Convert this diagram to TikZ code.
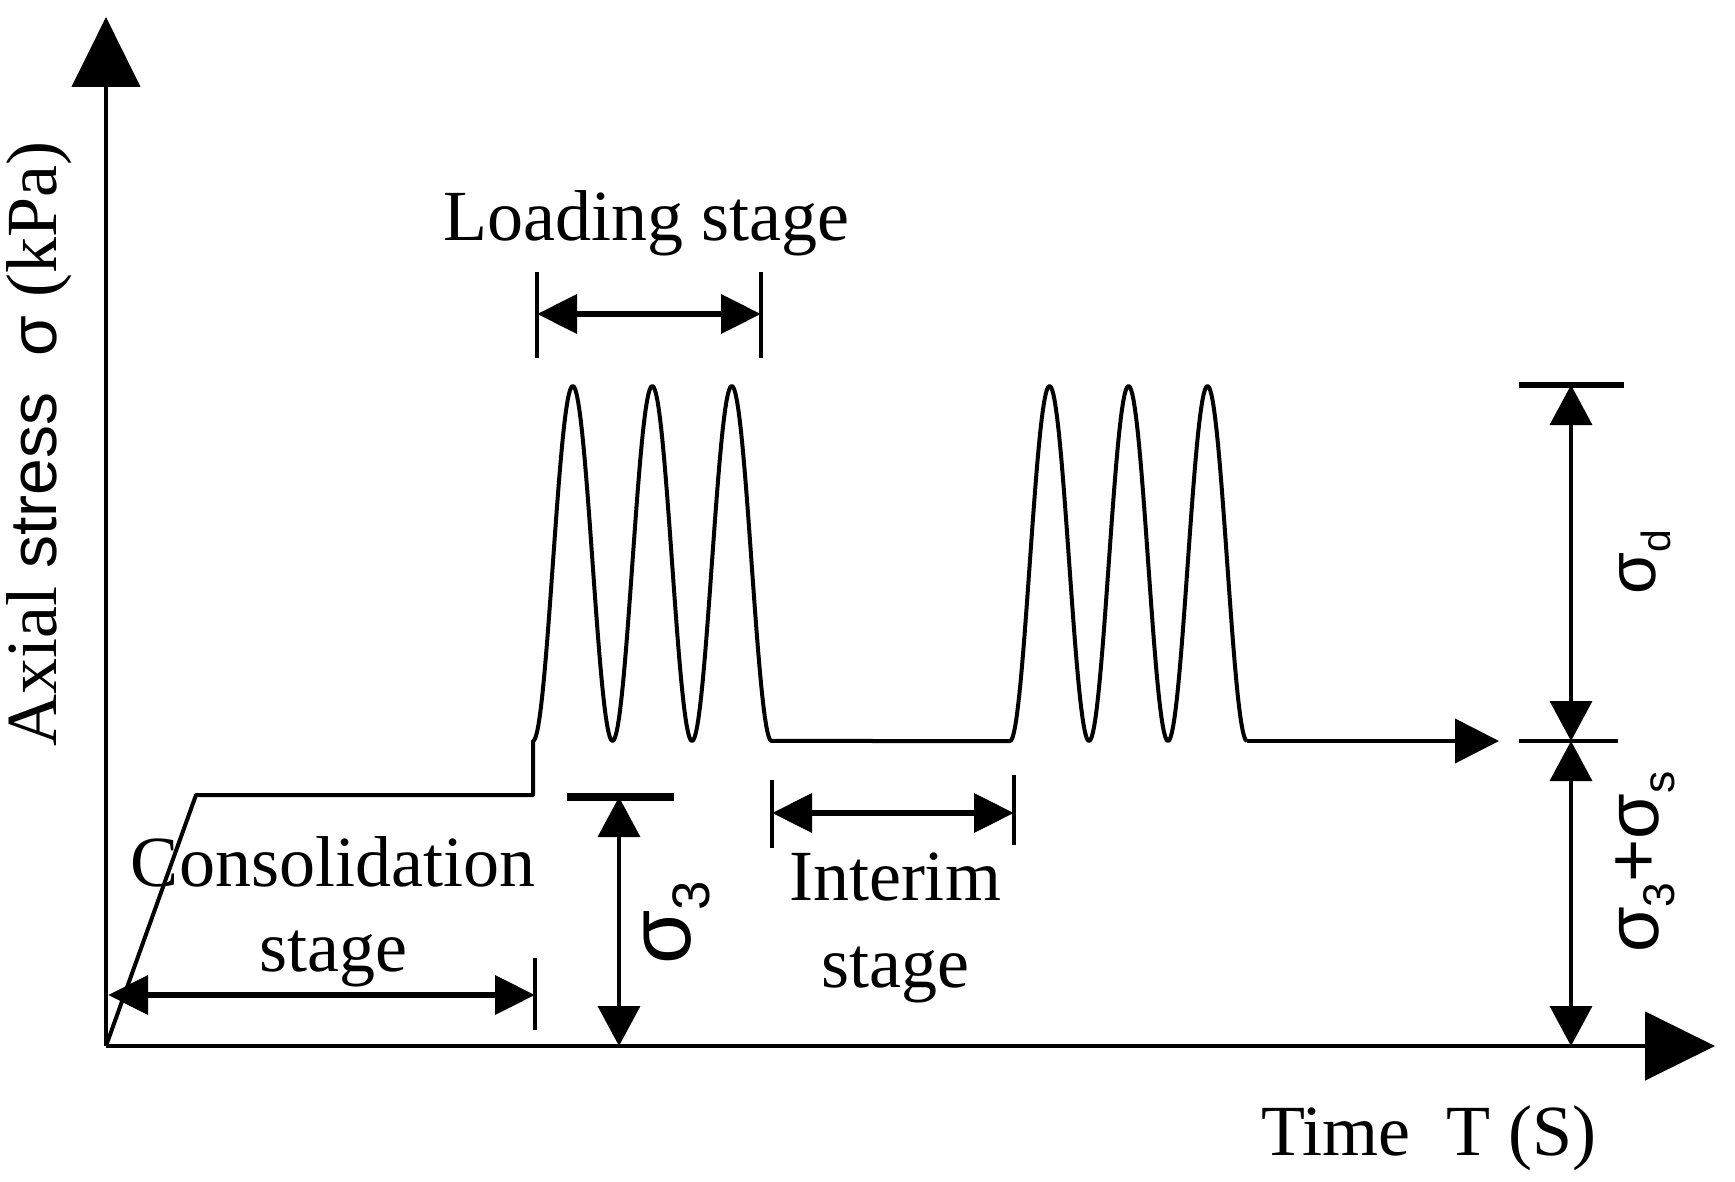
\documentclass[tikz,border=0pt]{standalone}
\usepackage{fontspec}
\usepackage{graphicx}
\setmainfont{Liberation Serif}
\newfontfamily\sansf{Liberation Sans}
\usetikzlibrary{arrows.meta}
\newcommand\lsub[1]{\raisebox{-0.22em}{\scalebox{0.6}{#1}}}
\begin{document}
\begin{tikzpicture}[x=0.5pt,y=-0.5pt,
  axisline/.style={line width=2.4pt,-{Triangle[length=35pt,width=34pt]}},
  sigline/.style={line width=2pt,line join=round},
  dimbig/.style={line width=3.4pt,{Triangle[length=20pt,width=19pt]}-{Triangle[length=20pt,width=19pt]}},
  dimthin/.style={line width=1.8pt,{Triangle[length=20pt,width=21pt]}-{Triangle[length=20pt,width=21pt]}},
  tickline/.style={line width=2pt},
  lbl/.style={font=\fontsize{36}{40}\selectfont, inner sep=0pt},
  siglbl/.style={inner sep=0pt, rotate=90},
]
\useasboundingbox (0,0) rectangle (1735,1182);
\coordinate (O) at (106,1046);
\coordinate (ytop) at (106,17);
\coordinate (xend) at (1715,1046);
\draw[axisline] (O) -- (ytop);
\draw[axisline] (O) -- (xend);

% loading signal
\coordinate (ramptop) at (196,795);
\coordinate (step) at (533,795);
\coordinate (stepup) at (533,741);
\coordinate (g2) at (1010,741);
\coordinate (g2end) at (1247,741);
\coordinate (sigend) at (1499,741);
\draw[sigline] (O) -- (ramptop) -- (step) -- (stepup)
  -- plot[domain=0:3,samples=181] ({533+79.5*\x},{741-177.5*(1-cos(360*\x))})
  -- (g2)
  -- plot[domain=0:3,samples=181] ({1010+79*\x},{741-177.5*(1-cos(360*\x))});
\draw[sigline,-{Triangle[length=22pt,width=22pt]}] (g2end) -- (sigend);

% loading stage dimension
\coordinate (la) at (537,314);
\coordinate (lb) at (761,314);
\draw[tickline] (537,272) -- (537,358);
\draw[tickline] (761,272) -- (761,358);
\draw[dimbig] (la) -- (lb);

% interim stage dimension
\coordinate (ia) at (772,813);
\coordinate (ib) at (1014,813);
\draw[tickline] (772,780) -- (772,848);
\draw[tickline] (1014,775) -- (1014,845);
\draw[dimbig] (ia) -- (ib);

% consolidation stage dimension
\coordinate (ca) at (108,995);
\coordinate (cb) at (535,995);
\draw[tickline] (535,958) -- (535,1030);
\draw[dimbig] (ca) -- (cb);

% sigma3 dimension
\coordinate (s3top) at (619,797);
\coordinate (s3bot) at (619,1046);
\draw[line width=4pt] (567,797) -- (674,797);
\draw[dimthin] (s3top) -- (s3bot);

% sigma_d and sigma3+sigma_s dimension
\coordinate (dtop) at (1571,385);
\coordinate (dmid) at (1571,741);
\coordinate (dbot) at (1571,1046);
\draw[line width=3pt] (1519,385) -- (1624,385);
\draw[line width=2pt] (1519,741) -- (1618,741);
\draw[dimthin] (dtop) -- (dmid);
\draw[dimthin] (dmid) -- (dbot);

% labels
\node[lbl,anchor=base] (load) at (646,241) {Loading stage};
\node[lbl,anchor=base] (cons1) at (333,886) {Consolidation};
\node[lbl,anchor=base] (cons2) at (333,971) {stage};
\node[lbl,anchor=base] (int1) at (895,900) {Interim};
\node[lbl,anchor=base] (int2) at (895,987) {stage};
\node[lbl,anchor=base east] (xlab) at (1597,1155) {Time\ \ T (S)};
\node[lbl,rotate=90] (ylab) at (39,444) {Axial {\sansf\fontsize{33}{36}\selectfont stress\ \ σ} (kPa)};
\node[siglbl,font=\sansf\fontsize{34}{40}\selectfont] (sd) at (1645,562) {σ\lsub{d}};
\node[siglbl,font=\sansf\fontsize{37}{40}\selectfont] (s3s) at (1645,862) {σ\lsub{3}+σ\lsub{s}};
\node[siglbl,font=\sansf\fontsize{44}{48}\selectfont] (s3) at (677,923) {σ\lsub{3}};
\end{tikzpicture}
\end{document}
